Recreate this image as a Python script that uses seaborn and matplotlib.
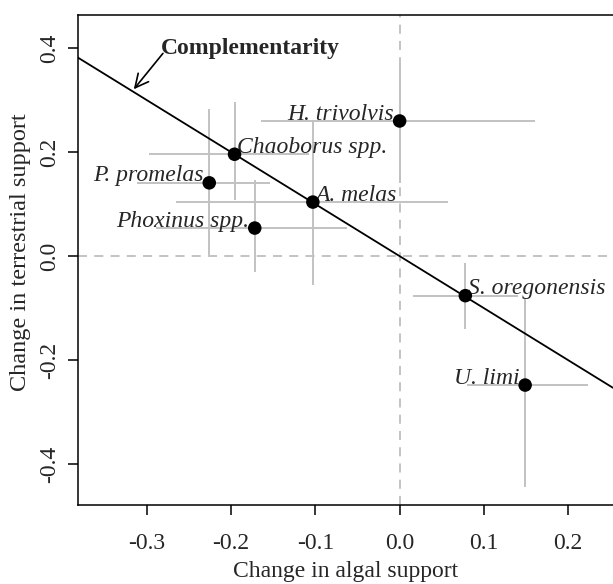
import matplotlib
matplotlib.use("Agg")
import matplotlib.pyplot as plt
import seaborn as sns
import pandas as pd

# Species-level shifts in algal vs terrestrial resource support
species = ["H. trivolvis", "Chaoborus spp.", "P. promelas", "A. melas",
           "Phoxinus spp.", "S. oregonensis", "U. limi"]
algal = [0.000, -0.196, -0.226, -0.103, -0.172, 0.078, 0.149]
terrestrial = [0.260, 0.196, 0.141, 0.104, 0.054, -0.076, -0.248]
algal_lo = [-0.164, -0.297, -0.312, -0.265, -0.289, 0.016, 0.080]
algal_hi = [0.161, -0.107, -0.154, 0.057, -0.063, 0.141, 0.224]
terr_lo = [0.140, 0.108, 0.002, -0.056, -0.031, -0.014, -0.081]
terr_hi = [0.374, 0.297, 0.284, 0.262, 0.146, -0.140, -0.445]
label_side = ["left", "right", "left", "right", "left", "right", "left"]

xticks = [-0.3, -0.2, -0.1, 0.0, 0.1, 0.2]
yticks = [-0.4, -0.2, 0.0, 0.2, 0.4]

df = pd.DataFrame({"species": species, "algal": algal, "terrestrial": terrestrial})

sns.set_theme(style="white")
plt.rcParams["font.family"] = ["Liberation Serif", "DejaVu Serif"]

FS = 17

fig = plt.figure(figsize=(6.13, 5.84), dpi=100)
ax = fig.add_axes([0.127, 0.135, 0.873, 0.839])

xmin, xmax = -0.382, 0.2533
ymin, ymax = -0.479, 0.4635

# reference lines at zero change
ax.axhline(0, color="#BEBEBE", lw=1.3, ls=(0, (5, 4)), zorder=1)
ax.axvline(0, color="#BEBEBE", lw=1.3, ls=(0, (5, 4)), zorder=1)

# error bars
ax.hlines(terrestrial, algal_lo, algal_hi, color="#C2C2C2", lw=1.4, zorder=2)
ax.vlines(algal, terr_lo, terr_hi, color="#C2C2C2", lw=1.4, zorder=2)

# complementarity line: terrestrial = -algal
ax.axline((0, 0), slope=-1, color="black", lw=1.3, zorder=3)

sns.scatterplot(data=df, x="algal", y="terrestrial", ax=ax, color="black",
                s=95, edgecolor="none", zorder=4, legend=False)

for name, x, y, side in zip(species, algal, terrestrial, label_side):
    dx = -4 if side == "left" else 2
    ax.annotate(name, (x, y), xytext=(dx, 1), textcoords="offset points",
                ha="right" if side == "left" else "left", va="baseline",
                fontsize=FS, fontstyle="italic")

ax.annotate("", xy=(-0.3156, 0.321), xytext=(-0.281, 0.39),
            arrowprops=dict(arrowstyle="->", color="black", lw=1.2,
                            mutation_scale=24, shrinkA=0, shrinkB=0))
ax.text(-0.283, 0.399, "Complementarity", fontsize=FS, fontweight="bold",
        ha="left", va="center")

ax.set_xlim(xmin, xmax)
ax.set_ylim(ymin, ymax)
ax.set_xticks(xticks)
ax.set_xticklabels([f"{t:.1f}" for t in xticks])
ax.set_yticks(yticks)
ax.set_yticklabels([f"{t:.1f}" for t in yticks], rotation=90, va="center")
ax.tick_params(axis="x", which="major", direction="out", length=7,
               width=1.1, color="black", labelsize=FS, pad=13, bottom=True)
ax.tick_params(axis="y", which="major", direction="out", length=7,
               width=1.1, color="black", labelsize=FS, pad=6, left=True)
ax.set_xlabel("Change in algal support", fontsize=FS, labelpad=5)
ax.set_ylabel("Change in terrestrial support", fontsize=17.5)
ax.yaxis.set_label_coords(-0.088, 0.516)

for side in ["left", "bottom", "top"]:
    ax.spines[side].set_color("black")
    ax.spines[side].set_linewidth(1.1)
ax.spines["right"].set_visible(False)

fig.savefig("out.png", dpi=100)
